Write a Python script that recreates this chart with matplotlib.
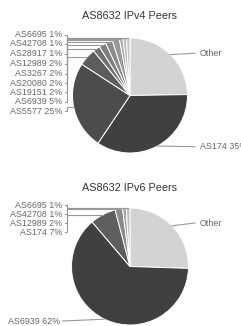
import matplotlib
matplotlib.use('Agg')
import matplotlib.pyplot as plt
import numpy as np

W, H = 241, 326

# ---- data ----
v4_names = ['Other', 'AS174', 'AS5577', 'AS6939', 'AS19151', 'AS20080',
            'AS3267', 'AS12989', 'AS28917', 'AS42708', 'AS6695']
v4_values = [25, 35, 25, 5, 2, 2, 2, 2, 1, 1, 1]

v6_names = ['Other', 'AS6939', 'AS174', 'AS12989', 'AS42708', 'AS6695']
v6_values = [25, 62, 7, 2, 1, 1]

# ---- styles ----
v4_colors = ['#d3d3d3', '#404040', '#4c4c4c', '#5c5c5c', '#707070', '#7e7e7e',
             '#8c8c8c', '#9a9a9a', '#a9a9a9', '#b8b8b8', '#c6c6c6']
v6_colors = ['#d3d3d3', '#404040', '#5e5e5e', '#8a8a8a', '#a8a8a8', '#c2c2c2']

plt.rcParams['font.family'] = ['Liberation Sans', 'DejaVu Sans']

fig = plt.figure(figsize=(W / 100, H / 100), dpi=100)
fig.patch.set_facecolor('white')
ax = fig.add_axes([0, 0, 1, 1])

TITLE_FS = 7.8
LABEL_FS = 6.4
LABEL_C = '#666666'
LINE_C = '#999999'


def Y(y):
    return H - y


def draw(names, values, colors, cx, cy, r, title, ty, left, right, elbow):
    wedges, _ = ax.pie(values, colors=colors, startangle=90, counterclock=False,
                       center=(cx, Y(cy)), radius=r, frame=True,
                       wedgeprops=dict(edgecolor='white', linewidth=0.7))
    ax.text(cx - 1, Y(ty), title, ha='center', va='center',
            fontsize=TITLE_FS, color='#333333')
    targets = {}
    for n, w in zip(names, wedges):
        mid = np.deg2rad((w.theta1 + w.theta2) / 2)
        targets[n] = (cx + r * np.cos(mid), Y(cy) + r * np.sin(mid))
    vals = dict(zip(names, values))
    # left labels
    for n, (xr, ly) in left.items():
        ax.text(xr, Y(ly), f'{n} {vals[n]}%', ha='right', va='center',
                fontsize=LABEL_FS, color=LABEL_C)
        tx, tyy = targets[n]
        if elbow is None or n == names[1]:
            ax.plot([xr + 2, tx], [Y(ly), tyy], color=LINE_C, lw=0.8)
        else:
            ax.plot([xr + 2, elbow, elbow, tx], [Y(ly), Y(ly), tyy, tyy],
                    color=LINE_C, lw=0.8)
    # right labels
    for n, (xl, ly, with_pct) in right.items():
        txt = f'{n} {vals[n]}%' if with_pct else n
        ax.text(xl, Y(ly), txt, ha='left', va='center',
                fontsize=LABEL_FS, color=LABEL_C)
        tx, tyy = targets[n]
        ax.plot([tx, xl - 5], [tyy, Y(ly)], color=LINE_C, lw=0.8)
    return targets


v4_left_y = [34.5, 44.0, 53.5, 63.5, 73.5, 83.0, 92.3, 101.5, 111.0]
v4_left_names = ['AS6695', 'AS42708', 'AS28917', 'AS12989', 'AS3267',
                 'AS20080', 'AS19151', 'AS6939', 'AS5577']
draw(v4_names, v4_values, v4_colors, 130, 95.5, 57.5,
     'AS8632 IPv4 Peers', 16,
     {n: (62.5, y) for n, y in zip(v4_left_names, v4_left_y)},
     {'Other': (200, 53.3, False), 'AS174': (200, 146.7, True)},
     67)

v6_left_y = [205.0, 214.3, 223.3, 232.3, 321.0]
v6_left_names = ['AS6695', 'AS42708', 'AS12989', 'AS174', 'AS6939']
v6_left_x = [62.5, 62.5, 62.5, 62.5, 60.5]
draw(v6_names, v6_values, v6_colors, 130, 266.5, 58.5,
     'AS8632 IPv6 Peers', 188,
     {n: (x, y) for n, x, y in zip(v6_left_names, v6_left_x, v6_left_y)},
     {'Other': (200, 223, False)},
     67)

ax.set_xlim(0, W)
ax.set_ylim(0, H)
ax.set_aspect('auto')
ax.axis('off')

fig.savefig('out.png', dpi=100, facecolor='white')
